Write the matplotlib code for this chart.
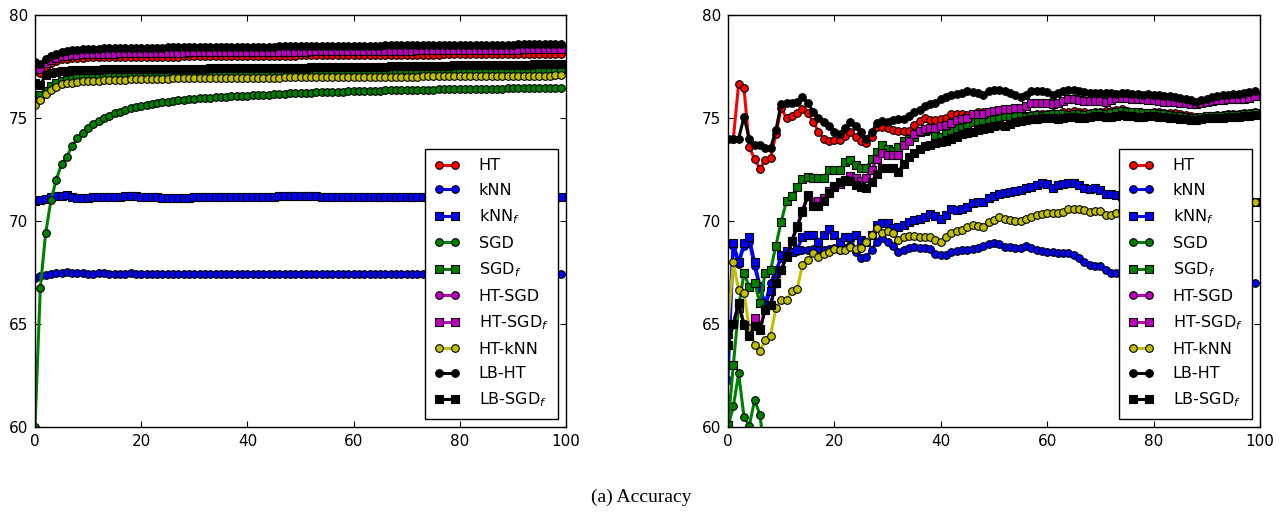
import numpy as np
import matplotlib
matplotlib.use("Agg")
import matplotlib.pyplot as plt


# x positions (evaluation steps)
steps = list(range(100))

labels = ["HT", "kNN", "kNN$_f$", "SGD", "SGD$_f$", "HT-SGD", "HT-SGD$_f$",
          "HT-kNN", "LB-HT", "LB-SGD$_f$"]

# ---------------- left panel ----------------
ht_l = [77.28, 77.20, 77.50, 77.68, 77.78, 77.84, 77.88, 77.90, 77.92, 77.93,
        77.94, 77.94, 77.95, 77.95, 77.95, 77.96, 77.96, 77.96, 77.96, 77.97,
        77.97, 77.97, 77.97, 77.98, 77.98, 77.98, 77.98, 77.98, 77.99, 77.99,
        77.99, 77.99, 78.00, 78.00, 78.00, 78.00, 78.00, 78.01, 78.01, 78.01,
        78.01, 78.02, 78.02, 78.02, 78.02, 78.03, 78.03, 78.03, 78.03, 78.03,
        78.04, 78.04, 78.04, 78.04, 78.05, 78.05, 78.05, 78.05, 78.05, 78.06,
        78.06, 78.06, 78.06, 78.06, 78.07, 78.07, 78.07, 78.07, 78.07, 78.07,
        78.08, 78.08, 78.08, 78.08, 78.08, 78.08, 78.08, 78.09, 78.09, 78.09,
        78.09, 78.09, 78.09, 78.09, 78.09, 78.10, 78.10, 78.10, 78.10, 78.10,
        78.10, 78.10, 78.10, 78.10, 78.11, 78.11, 78.11, 78.11, 78.11, 78.11]

knn_l = [67.22, 67.33, 67.38, 67.43, 67.50, 67.50, 67.52, 67.50, 67.48, 67.47,
         67.43, 67.45, 67.47, 67.46, 67.45, 67.44, 67.44, 67.45, 67.46, 67.45,
         67.44, 67.43, 67.43, 67.43, 67.42, 67.42, 67.42, 67.41, 67.41, 67.42,
         67.42, 67.42, 67.42, 67.42, 67.42, 67.42, 67.43, 67.43, 67.43, 67.43,
         67.43, 67.44, 67.44, 67.44, 67.44, 67.44, 67.45, 67.45, 67.45, 67.45,
         67.45, 67.45, 67.45, 67.45, 67.45, 67.44, 67.44, 67.44, 67.44, 67.44,
         67.44, 67.44, 67.44, 67.44, 67.44, 67.44, 67.44, 67.44, 67.44, 67.44,
         67.43, 67.43, 67.43, 67.43, 67.43, 67.43, 67.43, 67.43, 67.43, 67.43,
         67.43, 67.43, 67.43, 67.42, 67.42, 67.42, 67.42, 67.42, 67.42, 67.42,
         67.42, 67.42, 67.42, 67.42, 67.41, 67.41, 67.41, 67.41, 67.41, 67.41]

knnf_l = [70.97, 71.00, 71.05, 71.15, 71.22, 71.22, 71.25, 71.15, 71.14, 71.12,
          71.10, 71.16, 71.18, 71.17, 71.16, 71.15, 71.18, 71.20, 71.22, 71.19,
          71.17, 71.16, 71.15, 71.15, 71.14, 71.14, 71.13, 71.13, 71.14, 71.14,
          71.15, 71.15, 71.15, 71.16, 71.16, 71.16, 71.17, 71.17, 71.17, 71.17,
          71.18, 71.18, 71.18, 71.18, 71.18, 71.18, 71.19, 71.19, 71.19, 71.19,
          71.19, 71.19, 71.19, 71.19, 71.18, 71.18, 71.18, 71.18, 71.18, 71.18,
          71.18, 71.18, 71.18, 71.18, 71.18, 71.18, 71.18, 71.18, 71.18, 71.18,
          71.18, 71.18, 71.18, 71.18, 71.18, 71.18, 71.18, 71.18, 71.18, 71.18,
          71.17, 71.17, 71.17, 71.17, 71.17, 71.17, 71.17, 71.17, 71.17, 71.17,
          71.17, 71.17, 71.17, 71.17, 71.17, 71.17, 71.17, 71.17, 71.17, 71.17]

sgd_l = [60.00, 66.75, 69.40, 71.00, 72.00, 72.77, 73.12, 73.66, 74.01, 74.25,
         74.50, 74.70, 74.87, 74.98, 75.10, 75.23, 75.30, 75.40, 75.47, 75.53,
         75.60, 75.65, 75.70, 75.74, 75.77, 75.80, 75.83, 75.86, 75.88, 75.91,
         75.93, 75.95, 75.97, 75.99, 76.00, 76.02, 76.03, 76.05, 76.06, 76.08,
         76.09, 76.10, 76.12, 76.13, 76.14, 76.15, 76.17, 76.18, 76.19, 76.20,
         76.21, 76.22, 76.23, 76.24, 76.25, 76.26, 76.27, 76.27, 76.28, 76.29,
         76.30, 76.30, 76.31, 76.32, 76.32, 76.33, 76.34, 76.34, 76.35, 76.35,
         76.36, 76.36, 76.37, 76.37, 76.38, 76.38, 76.39, 76.39, 76.40, 76.40,
         76.41, 76.41, 76.41, 76.42, 76.42, 76.42, 76.43, 76.43, 76.43, 76.44,
         76.44, 76.44, 76.45, 76.45, 76.45, 76.46, 76.46, 76.46, 76.47, 76.47]

sgdf_l = [75.95, 76.10, 76.33, 76.55, 76.68, 76.78, 76.85, 76.90, 76.94, 76.97,
          77.00, 77.02, 77.04, 77.05, 77.06, 77.07, 77.08, 77.09, 77.10, 77.10,
          77.11, 77.11, 77.12, 77.12, 77.13, 77.13, 77.14, 77.14, 77.15, 77.15,
          77.16, 77.16, 77.17, 77.17, 77.18, 77.18, 77.19, 77.19, 77.20, 77.20,
          77.21, 77.21, 77.22, 77.22, 77.23, 77.23, 77.24, 77.24, 77.25, 77.25,
          77.25, 77.26, 77.26, 77.26, 77.27, 77.27, 77.27, 77.28, 77.28, 77.28,
          77.29, 77.29, 77.29, 77.30, 77.30, 77.30, 77.31, 77.31, 77.31, 77.32,
          77.32, 77.32, 77.33, 77.33, 77.33, 77.33, 77.34, 77.34, 77.34, 77.34,
          77.35, 77.35, 77.35, 77.35, 77.36, 77.36, 77.36, 77.36, 77.37, 77.37,
          77.37, 77.37, 77.38, 77.38, 77.38, 77.38, 77.39, 77.39, 77.39, 77.39]

hsf_l = [77.41, 77.36, 77.65, 77.80, 77.92, 78.00, 78.03, 78.06, 78.08, 78.09,
         78.10, 78.11, 78.12, 78.12, 78.13, 78.13, 78.14, 78.14, 78.14, 78.15,
         78.15, 78.15, 78.16, 78.16, 78.16, 78.17, 78.17, 78.17, 78.17, 78.18,
         78.18, 78.18, 78.18, 78.19, 78.19, 78.19, 78.19, 78.20, 78.20, 78.20,
         78.20, 78.20, 78.21, 78.21, 78.21, 78.21, 78.21, 78.22, 78.22, 78.22,
         78.22, 78.22, 78.23, 78.23, 78.23, 78.23, 78.24, 78.24, 78.24, 78.24,
         78.25, 78.25, 78.25, 78.25, 78.26, 78.26, 78.26, 78.26, 78.27, 78.27,
         78.27, 78.27, 78.28, 78.28, 78.28, 78.28, 78.29, 78.29, 78.29, 78.29,
         78.30, 78.30, 78.30, 78.30, 78.31, 78.31, 78.31, 78.31, 78.32, 78.32,
         78.32, 78.32, 78.33, 78.33, 78.33, 78.33, 78.34, 78.34, 78.34, 78.34]

# HT-SGD sits right under HT-SGD_f in the picture
hs_l = list(hsf_l)

htknn_l = [75.65, 75.87, 76.15, 76.36, 76.52, 76.64, 76.68, 76.72, 76.75, 76.78,
           76.80, 76.81, 76.82, 76.83, 76.84, 76.85, 76.86, 76.86, 76.87, 76.88,
           76.89, 76.89, 76.90, 76.90, 76.91, 76.91, 76.92, 76.92, 76.92, 76.93,
           76.93, 76.93, 76.94, 76.94, 76.94, 76.94, 76.95, 76.95, 76.95, 76.95,
           76.95, 76.96, 76.96, 76.96, 76.96, 76.96, 76.96, 76.97, 76.97, 76.97,
           76.97, 76.97, 76.97, 76.98, 76.98, 76.98, 76.98, 76.98, 76.99, 76.99,
           76.99, 76.99, 76.99, 77.00, 77.00, 77.00, 77.00, 77.00, 77.01, 77.01,
           77.01, 77.01, 77.01, 77.02, 77.02, 77.02, 77.02, 77.02, 77.03, 77.03,
           77.03, 77.03, 77.03, 77.04, 77.04, 77.04, 77.04, 77.04, 77.05, 77.05,
           77.05, 77.05, 77.05, 77.06, 77.06, 77.06, 77.06, 77.06, 77.07, 77.07]

lbht_l = [77.73, 77.62, 77.85, 78.00, 78.12, 78.22, 78.27, 78.30, 78.32, 78.34,
          78.35, 78.36, 78.37, 78.38, 78.38, 78.39, 78.39, 78.40, 78.40, 78.41,
          78.41, 78.41, 78.42, 78.42, 78.42, 78.43, 78.43, 78.43, 78.44, 78.44,
          78.44, 78.44, 78.45, 78.45, 78.45, 78.45, 78.46, 78.46, 78.46, 78.46,
          78.46, 78.47, 78.47, 78.47, 78.47, 78.47, 78.48, 78.48, 78.48, 78.48,
          78.48, 78.49, 78.49, 78.49, 78.49, 78.49, 78.50, 78.50, 78.50, 78.50,
          78.50, 78.51, 78.51, 78.51, 78.51, 78.51, 78.52, 78.52, 78.52, 78.52,
          78.52, 78.53, 78.53, 78.53, 78.53, 78.53, 78.54, 78.54, 78.54, 78.54,
          78.54, 78.55, 78.55, 78.55, 78.55, 78.55, 78.56, 78.56, 78.56, 78.56,
          78.56, 78.57, 78.57, 78.57, 78.57, 78.57, 78.58, 78.58, 78.58, 78.58]

lbsf_l = [76.68, 76.60, 77.09, 77.17, 77.24, 77.28, 77.30, 77.32, 77.33, 77.34,
          77.35, 77.35, 77.35, 77.36, 77.36, 77.36, 77.36, 77.37, 77.37, 77.37,
          77.37, 77.38, 77.38, 77.38, 77.38, 77.39, 77.39, 77.39, 77.39, 77.40,
          77.40, 77.40, 77.40, 77.41, 77.41, 77.41, 77.41, 77.42, 77.42, 77.42,
          77.42, 77.43, 77.43, 77.43, 77.43, 77.44, 77.44, 77.44, 77.44, 77.45,
          77.45, 77.45, 77.46, 77.46, 77.46, 77.47, 77.47, 77.47, 77.48, 77.48,
          77.48, 77.49, 77.49, 77.49, 77.50, 77.50, 77.50, 77.51, 77.51, 77.51,
          77.52, 77.52, 77.52, 77.53, 77.53, 77.53, 77.54, 77.54, 77.54, 77.55,
          77.55, 77.55, 77.56, 77.56, 77.56, 77.57, 77.57, 77.57, 77.58, 77.58,
          77.58, 77.59, 77.59, 77.59, 77.60, 77.60, 77.60, 77.61, 77.61, 77.61]

# ---------------- right panel ----------------
ht_r = [74.0, 74.0, 76.65, 76.47, 73.6, 73.0, 72.54, 72.95, 73.07, 74.2,
        75.5, 74.98, 75.1, 75.23, 75.42, 75.23, 74.82, 74.34, 74.0, 73.9,
        73.95, 73.95, 74.13, 74.34, 74.06, 73.9, 73.77, 74.1, 74.58, 74.55,
        74.5, 74.4, 74.38, 74.38, 74.38, 74.66, 74.85, 75.0, 74.9, 74.9,
        74.95, 75.0, 75.2, 75.2, 75.2, 75.15, 75.2, 75.3, 75.3, 75.25,
        75.2, 75.15, 75.1, 75.1, 75.15, 75.15, 75.1, 75.15, 75.2, 75.2,
        75.2, 75.25, 75.2, 75.3, 75.3, 75.35, 75.3, 75.3, 75.25, 75.3,
        75.3, 75.35, 75.35, 75.4, 75.42, 75.35, 75.3, 75.25, 75.25, 75.2,
        75.3, 75.28, 75.25, 75.25, 75.23, 75.2, 75.15, 75.1, 75.07, 75.05,
        75.1, 75.12, 75.15, 75.15, 75.18, 75.2, 75.2, 75.22, 75.25, 75.28]

knn_r = [62.3, 68.8, 67.9, 68.8, 69.0, 67.8, 66.7, 66.0, 67.0, 67.6,
         68.2, 68.4, 68.5, 68.55, 68.6, 68.6, 68.65, 68.6, 68.6, 68.65,
         68.7, 68.6, 68.7, 68.84, 68.5, 68.2, 68.25, 68.6, 69.0, 69.16,
         69.0, 68.8, 68.5, 68.6, 68.7, 68.75, 68.7, 68.7, 68.65, 68.4,
         68.35, 68.35, 68.5, 68.55, 68.6, 68.6, 68.65, 68.7, 68.8, 68.9,
         68.95, 68.9, 68.75, 68.75, 68.7, 68.7, 68.8, 68.7, 68.6, 68.55,
         68.5, 68.5, 68.45, 68.45, 68.45, 68.35, 68.2, 68.0, 67.86, 67.8,
         67.8, 67.6, 67.5, 67.5, 67.45, 67.4, 67.35, 67.3, 67.3, 67.25,
         67.2, 67.2, 67.15, 67.1, 67.1, 67.05, 67.05, 67.0, 67.0, 67.0,
         66.95, 66.95, 66.95, 66.95, 67.0, 67.0, 66.95, 66.95, 67.0, 66.97]

knnf_r = [64.5, 68.95, 68.0, 68.95, 69.2, 68.0, 66.86, 65.9, 66.6, 67.5,
          68.35, 68.55, 68.5, 68.6, 69.24, 69.3, 69.3, 69.0, 69.3, 69.6,
          69.3, 69.0, 69.24, 69.24, 69.3, 69.1, 69.0, 69.3, 69.8, 69.9,
          69.9, 69.64, 69.7, 69.8, 69.97, 70.05, 70.1, 70.2, 70.34, 70.25,
          70.1, 70.3, 70.57, 70.55, 70.6, 70.7, 70.86, 70.9, 70.9, 71.1,
          71.2, 71.3, 71.38, 71.42, 71.45, 71.5, 71.6, 71.67, 71.75, 71.83,
          71.8, 71.6, 71.75, 71.8, 71.86, 71.83, 71.75, 71.6, 71.55, 71.58,
          71.5, 71.3, 71.3, 71.26, 71.2, 71.2, 71.15, 71.1, 71.1, 71.05,
          71.0, 71.0, 71.0, 70.95, 70.95, 70.9, 70.9, 70.9, 70.85, 70.85,
          70.85, 70.85, 70.9, 70.9, 70.9, 70.9, 70.9, 70.9, 70.9, 70.9]

# SGD drops out of the shown range after the first few steps
sgd_r = [60.0, 61.0, 62.6, 60.5, 60.06, 61.3, 60.6, 58.5, 57.5, 57.0,
         56.8, 56.6, 56.5, 56.4, 56.3, 56.3, 56.2, 56.2, 56.1, 56.1,
         56.0, 56.0, 56.0, 55.9, 55.9, 55.9, 55.8, 55.8, 55.8, 55.8,
         55.7, 55.7, 55.7, 55.7, 55.6, 55.6, 55.6, 55.6, 55.6, 55.5,
         55.5, 55.5, 55.5, 55.5, 55.4, 55.4, 55.4, 55.4, 55.4, 55.4,
         55.3, 55.3, 55.3, 55.3, 55.3, 55.3, 55.2, 55.2, 55.2, 55.2,
         55.2, 55.2, 55.2, 55.1, 55.1, 55.1, 55.1, 55.1, 55.1, 55.1,
         55.0, 55.0, 55.0, 55.0, 55.0, 55.0, 55.0, 55.0, 54.9, 54.9,
         54.9, 54.9, 54.9, 54.9, 54.9, 54.9, 54.9, 54.8, 54.8, 54.8,
         54.8, 54.8, 54.8, 54.8, 54.8, 54.8, 54.8, 54.7, 54.7, 54.7]

sgdf_r = [60.1, 63.0, 65.8, 67.46, 66.8, 67.0, 66.0, 67.5, 67.6, 68.8,
          69.97, 70.97, 71.2, 71.67, 72.02, 72.15, 72.1, 72.1, 72.1, 72.48,
          72.5, 72.5, 72.85, 72.95, 72.7, 72.57, 72.57, 73.0, 73.37, 73.7,
          73.5, 73.4, 73.6, 73.9, 74.0, 74.1, 74.3, 74.35, 74.4, 74.17,
          74.1, 74.3, 74.4, 74.5, 74.6, 74.7, 74.8, 74.85, 74.9, 74.95,
          75.0, 75.05, 75.1, 75.1, 75.15, 75.1, 75.05, 75.1, 75.15, 75.1,
          75.15, 75.2, 75.2, 75.2, 75.15, 75.2, 75.2, 75.15, 75.2, 75.25,
          75.25, 75.2, 75.25, 75.3, 75.35, 75.3, 75.3, 75.3, 75.25, 75.25,
          75.25, 75.2, 75.2, 75.15, 75.1, 75.1, 75.05, 75.0, 75.0, 75.05,
          75.1, 75.1, 75.1, 75.12, 75.15, 75.15, 75.15, 75.18, 75.2, 75.22]

hsf_r = [64.0, 65.0, 66.0, 65.0, 64.45, 65.3, 64.75, 65.75, 65.9, 67.0,
         67.6, 68.3, 69.05, 69.75, 70.5, 71.25, 70.9, 70.95, 71.1, 71.45,
         71.7, 71.8, 71.95, 72.2, 72.1, 71.95, 72.1, 72.5, 73.0, 73.3,
         73.2, 73.2, 73.2, 73.7, 73.9, 74.2, 74.38, 74.45, 74.5, 74.5,
         74.6, 74.65, 74.74, 74.9, 74.95, 75.0, 75.2, 75.2, 75.2, 75.3,
         75.35, 75.39, 75.42, 75.45, 75.48, 75.5, 75.58, 75.74, 75.75, 75.74,
         75.72, 75.7, 75.74, 75.82, 75.9, 75.9, 75.88, 75.84, 75.84, 75.84,
         75.84, 75.78, 75.87, 75.95, 75.95, 75.95, 75.9, 75.9, 75.9, 75.87,
         75.85, 75.82, 75.8, 75.78, 75.78, 75.75, 75.72, 75.7, 75.7, 75.72,
         75.78, 75.82, 75.85, 75.88, 75.9, 75.9, 75.9, 75.92, 75.98, 76.05]

hs_r = list(hsf_r)

htknn_r = [65.0, 68.0, 66.65, 66.5, 64.8, 64.0, 63.7, 64.2, 64.43, 65.8,
           66.17, 66.17, 66.6, 66.7, 67.86, 68.1, 68.43, 68.27, 68.4, 68.5,
           68.65, 68.6, 68.6, 68.75, 68.65, 68.7, 69.0, 69.3, 69.64, 69.4,
           69.5, 69.4, 69.1, 69.2, 69.27, 69.25, 69.2, 69.2, 69.2, 69.1,
           69.0, 69.2, 69.4, 69.5, 69.56, 69.7, 69.8, 69.75, 69.7, 69.97,
           70.05, 70.2, 70.1, 70.05, 70.0, 70.0, 70.1, 70.2, 70.3, 70.35,
           70.4, 70.4, 70.4, 70.45, 70.6, 70.6, 70.6, 70.55, 70.45, 70.5,
           70.5, 70.3, 70.3, 70.4, 70.5, 70.55, 70.6, 70.6, 70.55, 70.5,
           70.5, 70.45, 70.5, 70.55, 70.6, 70.65, 70.7, 70.7, 70.75, 70.8,
           70.8, 70.8, 70.85, 70.85, 70.9, 70.9, 70.85, 70.85, 70.9, 70.9]

lbht_r = [74.0, 74.0, 74.0, 75.05, 74.0, 73.7, 73.7, 73.53, 73.53, 74.4,
          75.7, 75.75, 75.75, 75.8, 76.0, 75.75, 75.3, 74.98, 74.82, 74.6,
          74.34, 74.24, 74.5, 74.82, 74.6, 74.3, 74.0, 74.3, 74.75, 74.85,
          74.8, 74.9, 74.95, 74.95, 75.1, 75.3, 75.4, 75.6, 75.7, 75.75,
          75.9, 76.0, 76.1, 76.15, 76.2, 76.3, 76.25, 76.2, 76.1, 76.3,
          76.35, 76.35, 76.3, 76.2, 76.1, 76.0, 76.1, 76.3, 76.3, 76.3,
          76.25, 76.1, 76.2, 76.3, 76.35, 76.35, 76.3, 76.25, 76.2, 76.2,
          76.2, 76.2, 76.2, 76.15, 76.2, 76.2, 76.15, 76.15, 76.1, 76.15,
          76.1, 76.1, 76.05, 76.05, 76.0, 75.95, 75.9, 75.85, 75.8, 75.85,
          75.9, 76.0, 76.05, 76.1, 76.1, 76.15, 76.15, 76.2, 76.25, 76.3]

lbsf_r = [64.0, 65.0, 66.0, 64.95, 64.4, 64.9, 64.7, 65.7, 65.9, 67.0,
          67.6, 68.27, 69.04, 69.7, 70.45, 71.2, 70.75, 70.75, 70.95, 71.35,
          71.65, 71.9, 72.0, 71.95, 71.75, 71.65, 71.6, 71.9, 72.3, 72.55,
          72.57, 72.55, 72.4, 72.75, 73.1, 73.3, 73.5, 73.65, 73.7, 73.8,
          73.85, 73.9, 74.0, 74.1, 74.2, 74.25, 74.3, 74.4, 74.45, 74.5,
          74.6, 74.65, 74.6, 74.7, 74.8, 74.85, 74.9, 74.95, 74.95, 75.0,
          75.0, 75.0, 74.95, 75.0, 75.05, 75.05, 75.0, 75.0, 75.05, 75.1,
          75.1, 75.05, 75.05, 75.1, 75.15, 75.1, 75.1, 75.05, 75.05, 75.1,
          75.1, 75.05, 75.05, 75.0, 75.0, 74.95, 74.95, 74.9, 74.9, 74.95,
          75.0, 75.0, 75.0, 75.0, 75.05, 75.05, 75.05, 75.1, 75.1, 75.15]

left_series = [ht_l, knn_l, knnf_l, sgd_l, sgdf_l, hs_l, hsf_l, htknn_l, lbht_l, lbsf_l]
right_series = [ht_r, knn_r, knnf_r, sgd_r, sgdf_r, hs_r, hsf_r, htknn_r, lbht_r, lbsf_r]

# old matplotlib colour letters r, b, g, m, y, k
colors = ["#ff0000", "#0000ff", "#0000ff", "#008000", "#008000",
          "#bf00bf", "#bf00bf", "#bfbf00", "#000000", "#000000"]
markers = ["o", "o", "s", "o", "s", "o", "s", "o", "o", "s"]


def draw_panel(ax, series):
    for vals, lab, col, mk in zip(series, labels, colors, markers):
        ax.plot(steps, vals, color=col, marker=mk, label=lab, lw=2.2,
                markersize=5.5, markeredgecolor="k", markeredgewidth=0.8)
    ax.set_xlim(0, 100)
    ax.set_ylim(60, 80)
    ax.set_xticks([0, 20, 40, 60, 80, 100])
    ax.set_yticks([60, 65, 70, 75, 80])
    ax.tick_params(direction="in", top=True, right=True, length=4,
                   labelsize=11, pad=5)
    for s in ax.spines.values():
        s.set_linewidth(1.0)
    leg = ax.legend(loc="lower right", fontsize=11.5, numpoints=2,
                    handlelength=1.6, handletextpad=1.15, labelspacing=0.6,
                    borderpad=0.6, borderaxespad=0.5, fancybox=False,
                    framealpha=1.0, edgecolor="k")
    leg.get_frame().set_linewidth(1.0)


def main():
    fig = plt.figure(figsize=(12.83, 5.12), dpi=100)

    axl = fig.add_axes([35 / 1283, 1 - 427 / 512, 531 / 1283, 412 / 512])
    axr = fig.add_axes([728 / 1283, 1 - 427 / 512, 532 / 1283, 412 / 512])

    draw_panel(axl, left_series)
    draw_panel(axr, right_series)

    # sub-figure caption
    fig.text(0.5, 1 - 497 / 512, "(a) Accuracy", ha="center", va="center",
             fontsize=14, family=["Liberation Serif", "DejaVu Serif"])

    fig.savefig("out.png", dpi=100)


if __name__ == "__main__":
    main()
